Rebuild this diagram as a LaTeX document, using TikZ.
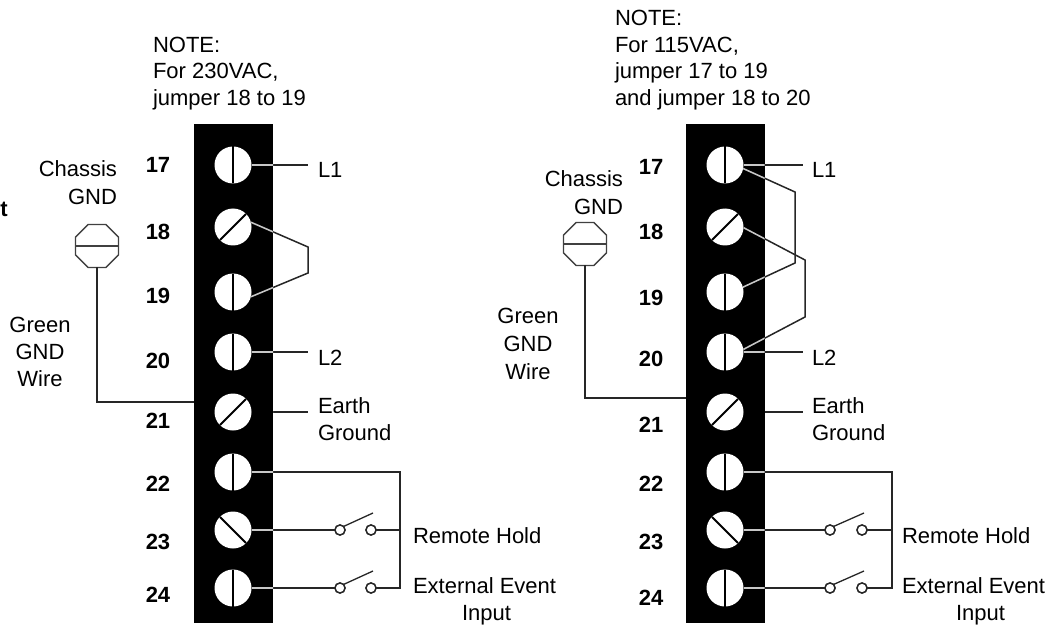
\documentclass[tikz,border=0pt]{standalone}
\usepackage{fontspec}
\setmainfont{Liberation Sans}
\usetikzlibrary{shapes.geometric,calc}
\tikzset{
  lbl/.style={font=\fontsize{22}{26.5}\selectfont, inner sep=0pt, outer sep=0pt},
  num/.style={font=\fontsize{22}{26.5}\selectfont\bfseries, inner sep=0pt, outer sep=0pt, anchor=base},
  tblock/.style={rectangle, fill=black, draw=none, minimum width=79pt, minimum height=499pt, inner sep=0pt, outer sep=0pt},
  screw/.style={circle, fill=white, draw=none, minimum size=37pt, inner sep=0pt, outer sep=0pt},
  slot/.style={line width=1.8pt, draw=black},
  wire/.style={line width=1.5pt, draw=#1},
  contact/.style={circle, draw=black!85, line width=1.4pt, fill=white, minimum size=10pt, inner sep=0pt, outer sep=0pt},
  chassis/.style={regular polygon, regular polygon sides=8, draw=black!75, line width=1.3pt, minimum size=46.5pt, inner sep=0pt, outer sep=0pt},
}
\newcommand{\allwires}[1]{%
  % left panel
  \draw[wire=#1] (sL17.east) -- (eL1);
  \draw[wire=#1] (sL18.15) -- (jL1) -- (jL2) -- (sL19.-15);
  \draw[wire=#1] (sL20.east) -- (eL2);
  \draw[wire=#1] (bL.east |- sL21) -- (eEL);
  \draw[wire=#1] (sL22.east) -- (busLt) -- (busLb) -- (kL24b.east);
  \draw[wire=#1] (sL23.east) -- (kL23a.west);
  \draw[wire=#1] (kL23b.east) -- (kL23b.east -| busLt);
  \draw[wire=#1] (sL24.east) -- (kL24a.west);
  % right panel
  \draw[wire=#1] (sR17.east) -- (eR1);
  \draw[wire=#1] (sR17.-11) -- (jR1) -- (jR2) -- (sR19.15);
  \draw[wire=#1] (sR18.-2) -- (jR3) -- (jR4) -- (sR20.8);
  \draw[wire=#1] (sR20.east) -- (eR2);
  \draw[wire=#1] (bR.east |- sR21) -- (eER);
  \draw[wire=#1] (sR22.east) -- (busRt) -- (busRb) -- (kR24b.east);
  \draw[wire=#1] (sR23.east) -- (kR23a.west);
  \draw[wire=#1] (kR23b.east) -- (kR23b.east -| busRt);
  \draw[wire=#1] (sR24.east) -- (kR24a.west);
}
\begin{document}
\begin{tikzpicture}[x=1pt,y=-1pt]
\useasboundingbox (0,0) rectangle (1062,628);

% ---------------- blocks
\node[tblock] (bL) at (233.5,373.5) {};
\node[tblock] (bR) at (725,373.5) {};

% ---------------- screws
\foreach \n/\y in {17/165,18/227,19/292,20/352,21/412,22/472,23/530,24/588}{
  \node[screw] (sL\n) at (233,\y) {};
  \node[screw] (sR\n) at (725,\y) {};
}
\foreach \s in {sL,sR}{
  \foreach \n in {17,19,20,22,24}{\draw[slot] (\s\n.north) -- (\s\n.south);}
  \foreach \n in {18,21}{\draw[slot] (\s\n.225) -- (\s\n.45);}
  \draw[slot] (\s23.135) -- (\s23.-45);
}

% ---------------- coordinates for free wire ends and bends
\coordinate (eL1) at (308,165);
\coordinate (eL2) at (308,352);
\coordinate (eEL) at (308,412);
\coordinate (jL1) at (308,247);
\coordinate (jL2) at (308,273);
\coordinate (busLt) at (400,472);
\coordinate (busLb) at (400,588);
\coordinate (eR1) at (803,165);
\coordinate (eR2) at (803,352);
\coordinate (eER) at (803,412);
\coordinate (jR1) at (795,192);
\coordinate (jR2) at (795,263);
\coordinate (jR3) at (805,260);
\coordinate (jR4) at (805,317);
\coordinate (busRt) at (892,472);
\coordinate (busRb) at (892,588);

% ---------------- switch contacts
\node[contact] (kL23a) at (340,530) {};
\node[contact] (kL23b) at (371,530) {};
\node[contact] (kL24a) at (340,588) {};
\node[contact] (kL24b) at (371,588) {};
\node[contact] (kR23a) at (830,530) {};
\node[contact] (kR23b) at (862,530) {};
\node[contact] (kR24a) at (830,588) {};
\node[contact] (kR24b) at (862,588) {};
\coordinate (lvL23) at (373,513);
\coordinate (lvL24) at (373,571);
\coordinate (lvR23) at (864,513);
\coordinate (lvR24) at (864,571);

% ---------------- wires
\allwires{black!85}
\begin{scope}
  \clip (bL.south west) rectangle (bL.north east) (bR.south west) rectangle (bR.north east);
  \allwires{white!78!black}
\end{scope}
\foreach \k in {kL23a,kL23b,kL24a,kL24b,kR23a,kR23b,kR24a,kR24b}{
  \node[contact] at (\k) {};
}
\draw[wire=black!85, line width=1.3pt] (kL23a.45) -- (lvL23);
\draw[wire=black!85, line width=1.3pt] (kL24a.45) -- (lvL24);
\draw[wire=black!85, line width=1.3pt] (kR23a.45) -- (lvR23);
\draw[wire=black!85, line width=1.3pt] (kR24a.45) -- (lvR24);

% ---------------- chassis ground
\node[chassis] (cL) at (97,246) {};
\draw[black!75, line width=1.3pt] (cL.west) -- (cL.east);
\draw[wire=black!85] (cL.south) |- (bL.west |- 0,402);
\node[chassis] (cR) at (585,244) {};
\draw[black!75, line width=1.3pt] (cR.west) -- (cR.east);
\draw[wire=black!85] (cR.south) |- (bR.west |- 0,398);

% ---------------- terminal numbers
\foreach \n/\y in {17/173,18/240,19/303,20/368,21/428,22/491,23/549,24/602}{
  \node[num] (nL\n) at (158,\y) {\n};
}
\foreach \n/\y in {17/175,18/240,19/305,20/366,21/432,22/491,23/549,24/605}{
  \node[num] (nR\n) at (651,\y) {\n};
}

% ---------------- texts left
\node[num, anchor=base west] (frag) at (0.5,217) {t};
\node[lbl, anchor=base west] (noteL1) at (153,52.5) {NOTE:};
\node[lbl, anchor=base west] (noteL2) at (153,79) {For 230VAC,};
\node[lbl, anchor=base west] (noteL3) at (153,105.5) {jumper 18 to 19};
\node[lbl, anchor=base east] (chL1) at (117,177) {Chassis};
\node[lbl, anchor=base east] (chL2) at (117,205) {GND};
\node[lbl, anchor=base] (gwL1) at (40,332) {Green};
\node[lbl, anchor=base] (gwL2) at (40,359) {GND};
\node[lbl, anchor=base] (gwL3) at (40,386) {Wire};
\node[lbl, anchor=base west] (tL1) at (318,178) {L1};
\node[lbl, anchor=base west] (tL2) at (318,365) {L2};
\node[lbl, anchor=base west] (tEL1) at (318,413) {Earth};
\node[lbl, anchor=base west] (tEL2) at (318,440) {Ground};
\node[lbl, anchor=base west] (tRHL) at (413,543) {Remote Hold};
\node[lbl, anchor=base west] (tEEL1) at (413,593) {External Event};
\node[lbl, anchor=base west] (tEEL2) at (462,620) {Input};

% ---------------- texts right
\node[lbl, anchor=base west] (noteR1) at (615,26) {NOTE:};
\node[lbl, anchor=base west] (noteR2) at (615,52.5) {For 115VAC,};
\node[lbl, anchor=base west] (noteR3) at (615,79) {jumper 17 to 19};
\node[lbl, anchor=base west] (noteR4) at (615,105.5) {and jumper 18 to 20};
\node[lbl, anchor=base east] (chR1) at (623,187) {Chassis};
\node[lbl, anchor=base east] (chR2) at (623,215) {GND};
\node[lbl, anchor=base] (gwR1) at (528,323) {Green};
\node[lbl, anchor=base] (gwR2) at (528,351) {GND};
\node[lbl, anchor=base] (gwR3) at (528,379) {Wire};
\node[lbl, anchor=base west] (tR1) at (812,178) {L1};
\node[lbl, anchor=base west] (tR2) at (812,365) {L2};
\node[lbl, anchor=base west] (tER1) at (812,413) {Earth};
\node[lbl, anchor=base west] (tER2) at (812,440) {Ground};
\node[lbl, anchor=base west] (tRHR) at (902,543) {Remote Hold};
\node[lbl, anchor=base west] (tEER1) at (902,593) {External Event};
\node[lbl, anchor=base west] (tEER2) at (956,620) {Input};
\end{tikzpicture}
\end{document}
